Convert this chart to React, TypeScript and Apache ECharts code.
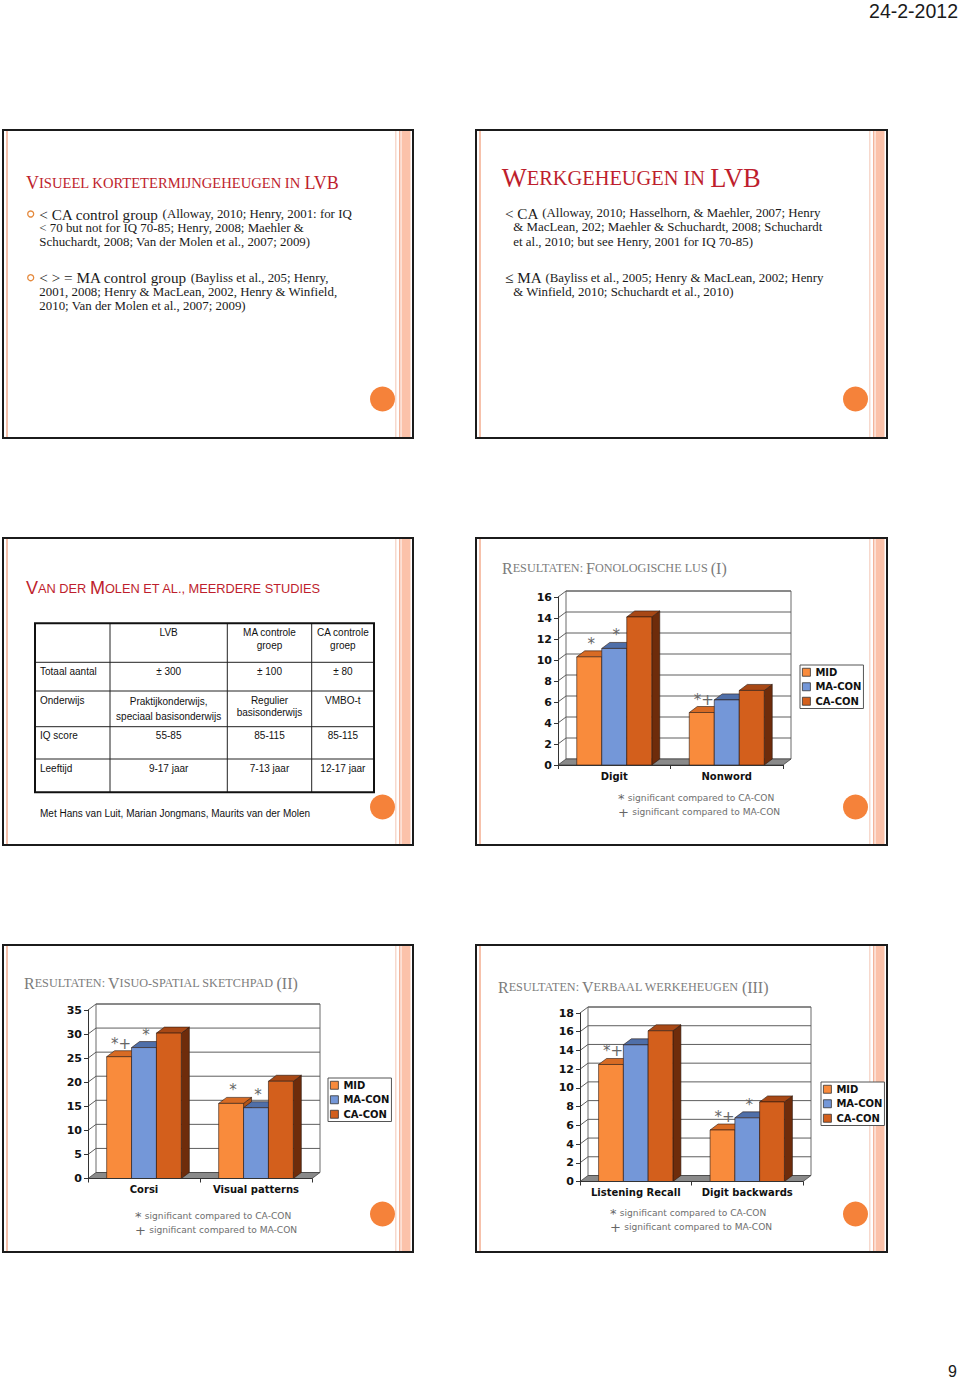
import { useEffect, useRef } from "react";
import * as echarts from "echarts";

// ---------------- data ----------------
const SERIES_NAMES = ["MID", "MA-CON", "CA-CON"];

const fonoCategories = ["Digit", "Nonword"];
const fonoMID = [10.3, 5.0];
const fonoMA = [11.1, 6.2];
const fonoCA = [14.1, 7.1];
const fonoTicks = [0, 2, 4, 6, 8, 10, 12, 14, 16];
const fonoMarksMID = ["*", "*+"];
const fonoMarksMA = ["*", ""];
const fonoMarksCA = ["", ""];

const visuoCategories = ["Corsi", "Visual patterns"];
const visuoMID = [25.3, 15.6];
const visuoMA = [27.2, 14.7];
const visuoCA = [30.2, 20.2];
const visuoTicks = [0, 5, 10, 15, 20, 25, 30, 35];
const visuoMarksMID = ["*+", "*"];
const visuoMarksMA = ["*", "*"];
const visuoMarksCA = ["", ""];

const verbCategories = ["Listening Recall", "Digit backwards"];
const verbMID = [12.5, 5.5];
const verbMA = [14.6, 6.8];
const verbCA = [16.1, 8.5];
const verbTicks = [0, 2, 4, 6, 8, 10, 12, 14, 16, 18];
const verbMarksMID = ["*+", "*+"];
const verbMarksMA = ["", "*"];
const verbMarksCA = ["", ""];

const footSymbols = ["*", "+"];
const footTexts = ["significant compared to CA-CON", "significant compared to MA-CON"];

const tableHeader = ["", "LVB", "MA controle\ngroep", "CA controle\ngroep"];
const tableRows = [
  ["Totaal aantal", "± 300", "± 100", "± 80"],
  ["Onderwijs", "Praktijkonderwijs,\nspeciaal basisonderwijs", "Regulier\nbasisonderwijs", "VMBO-t"],
  ["IQ score", "55-85", "85-115", "85-115"],
  ["Leeftijd", "9-17 jaar", "7-13 jaar", "12-17 jaar"],
];

// ---------------- styles ----------------
const FRONT = ["#F98B3C", "#7497D8", "#D35F1C"];
const TOPC = ["#D86B24", "#4F6FA9", "#A84815"];
const SIDE = ["#B35417", "#3E5A8E", "#6E2C0B"];
const DX = 8;
const DY = 6;
const RED = "#BE1E2D";
const GREY_TITLE = "#7c7c7c";
const SERIF = "Liberation Serif";
const SANS = "Liberation Sans";
const VERD = "DejaVu Sans";
const BODY_BIG = 15.2;
const BODY_SMALL = 12.9;

const SLIDES = [
  { x: 3, y: 130, w: 410, h: 308 },
  { x: 476, y: 130, w: 411, h: 308 },
  { x: 3, y: 538, w: 410, h: 307 },
  { x: 476, y: 538, w: 411, h: 307 },
  { x: 3, y: 945, w: 410, h: 307 },
  { x: 476, y: 945, w: 411, h: 307 },
];

const CHARTS = [
  {
    cats: fonoCategories, vals: [fonoMID, fonoMA, fonoCA], ticks: fonoTicks,
    marks: [fonoMarksMID, fonoMarksMA, fonoMarksCA],
    grid: { left: 558, top: 597, width: 225, height: 168 },
    legend: { left: 800, top: 665 },
    title: { x: 502, y: 568, parts: [["R", 1], ["ESULTATEN: ", 0], ["F", 1], ["ONOLOGISCHE LUS ", 0], ["(I)", 1]] },
    foot: { x: 618, y: 798 },
  },
  {
    cats: visuoCategories, vals: [visuoMID, visuoMA, visuoCA], ticks: visuoTicks,
    marks: [visuoMarksMID, visuoMarksMA, visuoMarksCA],
    grid: { left: 88, top: 1010, width: 224, height: 168.5 },
    legend: { left: 328, top: 1078 },
    title: { x: 24, y: 983, parts: [["R", 1], ["ESULTATEN: ", 0], ["V", 1], ["ISUO-SPATIAL SKETCHPAD ", 0], ["(II)", 1]] },
    foot: { x: 135, y: 1216 },
  },
  {
    cats: verbCategories, vals: [verbMID, verbMA, verbCA], ticks: verbTicks,
    marks: [verbMarksMID, verbMarksMA, verbMarksCA],
    grid: { left: 580, top: 1013, width: 223, height: 168.5 },
    legend: { left: 821, top: 1082 },
    title: { x: 498, y: 987, parts: [["R", 1], ["ESULTATEN: ", 0], ["V", 1], ["ERBAAL WERKEHEUGEN ", 0], ["(III)", 1]] },
    foot: { x: 610, y: 1213 },
  },
];

// ---------------- helpers ----------------
function richText(x: number, y: number, parts: any[], big: number, small: number, family: string, fill: string, z = 10) {
  return {
    type: "text", x, y, z,
    style: {
      text: parts.map((p) => `{${p[1] ? "b" : "s"}|${p[0]}}`).join(""),
      rich: {
        b: { fontSize: big, fontFamily: family, fill },
        s: { fontSize: small, fontFamily: family, fill },
      },
      fill,
      textAlign: "left",
      textVerticalAlign: "middle",
    },
  };
}

function plainText(x: number, y: number, text: string, size: number, family: string, fill: string, align = "left", vAlign = "middle", extra: any = {}) {
  return {
    type: "text", x, y, z: 10,
    style: { text, fontSize: size, fontFamily: family, fill, textAlign: align, textVerticalAlign: vAlign, ...extra },
  };
}

function decorSeries(ci: number, ticks: number[]) {
  return {
    type: "custom", xAxisIndex: ci, yAxisIndex: ci, z: 1, silent: true,
    data: [[0, 0]], encode: { x: 0, y: 1 },
    renderItem: (params: any, api: any) => {
      const cs = params.coordSys;
      const x0 = cs.x, x1 = cs.x + cs.width;
      const yb = api.coord([0, ticks[0]])[1];
      const yt = api.coord([0, ticks[ticks.length - 1]])[1];
      const children: any[] = [
        { type: "polygon", shape: { points: [[x0, yt], [x0 + DX, yt - DY], [x0 + DX, yb - DY], [x0, yb]] }, style: { fill: "#fff" } },
        { type: "rect", shape: { x: x0 + DX, y: yt - DY, width: cs.width, height: yb - yt }, style: { fill: "#fff", stroke: "#6b6b6b", lineWidth: 1 } },
      ];
      ticks.slice(1).forEach((t) => {
        const y = api.coord([0, t])[1];
        children.push({ type: "polyline", shape: { points: [[x0, y], [x0 + DX, y - DY], [x1 + DX, y - DY]] }, style: { fill: null, stroke: "#5e5e5e", lineWidth: 1 } });
      });
      children.push({ type: "polygon", shape: { points: [[x0, yb], [x0 + DX, yb - DY], [x1 + DX, yb - DY], [x1, yb]] }, style: { fill: "#8a8a8a", stroke: "#444", lineWidth: 0.8 } });
      return { type: "group", children };
    },
  };
}

function barSeries(ci: number, si: number, values: number[], marks: string[]) {
  return {
    type: "custom", name: SERIES_NAMES[si], xAxisIndex: ci, yAxisIndex: ci, z: 3,
    itemStyle: { color: FRONT[si] },
    data: values.map((v, i) => [i, v]),
    encode: { x: 0, y: 1 },
    renderItem: (params: any, api: any) => {
      const c = api.value(0), v = api.value(1);
      const base = api.coord([c, 0]);
      const top = api.coord([c, v]);
      const cw = api.size([1, 0])[0];
      const bw = (cw * 2) / 9;
      const x = base[0] - 1.5 * bw + si * bw;
      const yb = base[1], yt = top[1];
      const ln = { stroke: "#2b1a10", lineWidth: 0.6 };
      const children: any[] = [
        { type: "polygon", shape: { points: [[x + bw, yt], [x + bw + DX, yt - DY], [x + bw + DX, yb - DY], [x + bw, yb]] }, style: { fill: SIDE[si], ...ln } },
        { type: "polygon", shape: { points: [[x, yt], [x + DX, yt - DY], [x + bw + DX, yt - DY], [x + bw, yt]] }, style: { fill: TOPC[si], ...ln } },
        { type: "rect", shape: { x, y: yt, width: bw, height: yb - yt }, style: { fill: FRONT[si], ...ln } },
      ];
      const m = marks[params.dataIndex];
      if (m) {
        children.push({
          type: "text", x: x + bw / 2 + 2, y: yt - 13,
          style: { text: m, fill: "#666", fontSize: 15, fontFamily: VERD, textAlign: "center", textVerticalAlign: "middle" },
        });
      }
      return { type: "group", children };
    },
  };
}

function buildGraphic() {
  const els: any[] = [];
  // page header / number
  els.push(plainText(958, 11, "24-2-2012", 19.5, SANS, "#1a1a1a", "right"));
  els.push(plainText(957, 1371, "9", 16, SANS, "#1a1a1a", "right"));

  // slide frames
  SLIDES.forEach((s) => {
    els.push({ type: "rect", z: 0, shape: { x: s.x, y: s.y, width: s.w, height: s.h }, style: { fill: "#fff", stroke: "#1b1b1b", lineWidth: 2 } });
    els.push({ type: "rect", z: 0, shape: { x: s.x + 3, y: s.y + 1, width: 2, height: s.h - 2 }, style: { fill: "#f6c1ab" } });
    const r = s.x + s.w;
    els.push({ type: "rect", z: 0, shape: { x: r - 18, y: s.y + 1, width: 1.5, height: s.h - 2 }, style: { fill: "#f7d9cd" } });
    els.push({ type: "rect", z: 0, shape: { x: r - 14, y: s.y + 1, width: 1.5, height: s.h - 2 }, style: { fill: "#f3b49b" } });
    els.push({ type: "rect", z: 0, shape: { x: r - 11.5, y: s.y + 1, width: 9, height: s.h - 2 }, style: { fill: "#fbc2aa" } });
    els.push({ type: "circle", z: 2, shape: { cx: s.x + 379.5, cy: s.y + 269, r: 12.5 }, style: { fill: "#F5823A" } });
  });

  // slide 1
  els.push(richText(26, 183, [["V", 1], ["ISUEEL KORTETERMIJNGEHEUGEN IN ", 0], ["LVB", 1]], 18, 14.6, SERIF, RED));
  els.push({ type: "circle", z: 10, shape: { cx: 30.7, cy: 214, r: 3 }, style: { fill: "none", stroke: "#E58A3E", lineWidth: 1.3 } });
  els.push({ type: "circle", z: 10, shape: { cx: 30.7, cy: 277.7, r: 3 }, style: { fill: "none", stroke: "#E58A3E", lineWidth: 1.3 } });
  els.push(richText(39.3, 214, [["< CA control group ", 1], ["(Alloway, 2010; Henry, 2001: for IQ", 0]], BODY_BIG, BODY_SMALL, SERIF, "#1a1a1a"));
  els.push(richText(39.3, 227.7, [["< 70 but not for IQ 70-85; Henry, 2008; Maehler &", 0]], BODY_BIG, BODY_SMALL, SERIF, "#1a1a1a"));
  els.push(richText(39.3, 241.7, [["Schuchardt, 2008; Van der Molen et al., 2007; 2009)", 0]], BODY_BIG, BODY_SMALL, SERIF, "#1a1a1a"));
  els.push(richText(39.3, 277.7, [["< > = MA control group ", 1], ["(Bayliss et al., 205; Henry,", 0]], BODY_BIG, BODY_SMALL, SERIF, "#1a1a1a"));
  els.push(richText(39.3, 291.7, [["2001, 2008; Henry & MacLean, 2002, Henry & Winfield,", 0]], BODY_BIG, BODY_SMALL, SERIF, "#1a1a1a"));
  els.push(richText(39.3, 306, [["2010; Van der Molen et al., 2007; 2009)", 0]], BODY_BIG, BODY_SMALL, SERIF, "#1a1a1a"));

  // slide 2
  els.push(richText(501.7, 178.3, [["W", 1], ["ERKGEHEUGEN IN ", 0], ["LVB", 1]], 26.5, 20.4, SERIF, RED));
  els.push(richText(505, 213.3, [["< CA ", 1], ["(Alloway, 2010; Hasselhorn, & Maehler, 2007; Henry", 0]], BODY_BIG, BODY_SMALL, SERIF, "#1a1a1a"));
  els.push(richText(513.3, 227.3, [["& MacLean, 202; Maehler & Schuchardt, 2008; Schuchardt", 0]], BODY_BIG, BODY_SMALL, SERIF, "#1a1a1a"));
  els.push(richText(513.3, 241.7, [["et al., 2010; but see Henry, 2001 for IQ 70-85)", 0]], BODY_BIG, BODY_SMALL, SERIF, "#1a1a1a"));
  els.push(richText(505, 277.7, [["≤ MA ", 1], ["(Bayliss et al., 2005; Henry & MacLean, 2002; Henry", 0]], BODY_BIG, BODY_SMALL, SERIF, "#1a1a1a"));
  els.push(richText(513.3, 291.7, [["& Winfield, 2010; Schuchardt et al., 2010)", 0]], BODY_BIG, BODY_SMALL, SERIF, "#1a1a1a"));

  // slide 3: title, table, footer
  els.push(richText(26, 588.3, [["V", 1], ["AN DER ", 0], ["M", 1], ["OLEN ET AL., MEERDERE STUDIES", 0]], 18, 12.8, SANS, RED));
  const colX = [35, 110, 227.3, 311.7, 374];
  const rowY = [623.3, 662.3, 691, 726.7, 759, 792.3];
  colX.slice(1, 4).forEach((x) => els.push({ type: "line", z: 5, shape: { x1: x, y1: rowY[0], x2: x, y2: rowY[5] }, style: { stroke: "#222", lineWidth: 1 } }));
  rowY.slice(1, 5).forEach((y) => els.push({ type: "line", z: 5, shape: { x1: colX[0], y1: y, x2: colX[4], y2: y }, style: { stroke: "#222", lineWidth: 1 } }));
  els.push({ type: "rect", z: 5, shape: { x: colX[0], y: rowY[0], width: colX[4] - colX[0], height: rowY[5] - rowY[0] }, style: { fill: "none", stroke: "#111", lineWidth: 2 } });
  [tableHeader, ...tableRows].forEach((row, ri) => {
    row.forEach((cell, cj) => {
      if (!cell) return;
      const x = cj === 0 ? colX[0] + 5 : (colX[cj] + colX[cj + 1]) / 2;
      const lh = ri === 2 && cj === 1 ? 15 : 12.5;
      els.push(plainText(x, rowY[ri] + 3, cell, 10, SANS, "#111", cj === 0 ? "left" : "center", "top", { lineHeight: lh }));
    });
  });
  els.push(plainText(40, 813.3, "Met Hans van Luit, Marian Jongmans, Maurits van der Molen", 10, SANS, "#111"));

  // chart slides: titles + footnotes
  CHARTS.forEach((c) => {
    els.push(richText(c.title.x, c.title.y, c.title.parts, 16, 12.2, SERIF, GREY_TITLE));
    footSymbols.forEach((sym, k) => {
      els.push({
        type: "text", x: c.foot.x, y: c.foot.y + k * 14, z: 10,
        style: {
          text: `{a|${sym}} {t|${footTexts[k]}}`,
          rich: { a: { fontSize: 13, fontFamily: VERD, fill: "#666" }, t: { fontSize: 9.1, fontFamily: VERD, fill: "#6e6e6e" } },
          textAlign: "left", textVerticalAlign: "middle",
        },
      });
    });
  });
  return els;
}

function buildOption() {
  const axisFont = { fontFamily: VERD, fontWeight: "bold", color: "#111" };
  return {
    animation: false,
    grid: CHARTS.map((c) => ({ ...c.grid, containLabel: false, show: false })),
    xAxis: CHARTS.map((c, i) => ({
      type: "category", gridIndex: i, data: c.cats, z: 5,
      axisLine: { show: true, lineStyle: { color: "#333", width: 1 } },
      axisTick: { show: true, length: 4, lineStyle: { color: "#333" } },
      axisLabel: { ...axisFont, fontSize: 10, margin: 6, interval: 0, hideOverlap: false },
      splitLine: { show: false },
    })),
    yAxis: CHARTS.map((c, i) => ({
      type: "value", gridIndex: i, z: 5,
      min: c.ticks[0], max: c.ticks[c.ticks.length - 1], interval: c.ticks[1] - c.ticks[0],
      axisLine: { show: true, lineStyle: { color: "#333", width: 1 } },
      axisTick: { show: true, length: 4, lineStyle: { color: "#333" } },
      axisLabel: { ...axisFont, fontSize: 11, margin: 6 },
      splitLine: { show: false },
    })),
    legend: CHARTS.map((c) => ({
      left: c.legend.left, top: c.legend.top, orient: "vertical",
      data: SERIES_NAMES, icon: "rect", itemWidth: 8, itemHeight: 8, itemGap: 2,
      padding: [1, 2, 1, 2], borderColor: "#555", borderWidth: 1, backgroundColor: "#fff",
      selectedMode: false, z: 6,
      itemStyle: { borderColor: "#333", borderWidth: 0.8 },
      textStyle: { fontFamily: VERD, fontWeight: "bold", fontSize: 10, color: "#111", lineHeight: 12.5 },
    })),
    series: [
      ...CHARTS.map((c, i) => decorSeries(i, c.ticks)),
      ...CHARTS.flatMap((c, i) => [0, 1, 2].map((si) => barSeries(i, si, c.vals[si], c.marks[si]))),
    ],
    graphic: { elements: buildGraphic() },
  };
}

export default function App() {
  const ref = useRef<HTMLDivElement>(null);
  useEffect(() => {
    if (!ref.current) return;
    const chart = echarts.init(ref.current, null, { renderer: "svg" });
    chart.setOption(buildOption() as any);
    return () => chart.dispose();
  }, []);
  return <div ref={ref} style={{ position: "absolute", left: 0, top: 0, width: 960, height: 1383, background: "#fff" }} />;
}
